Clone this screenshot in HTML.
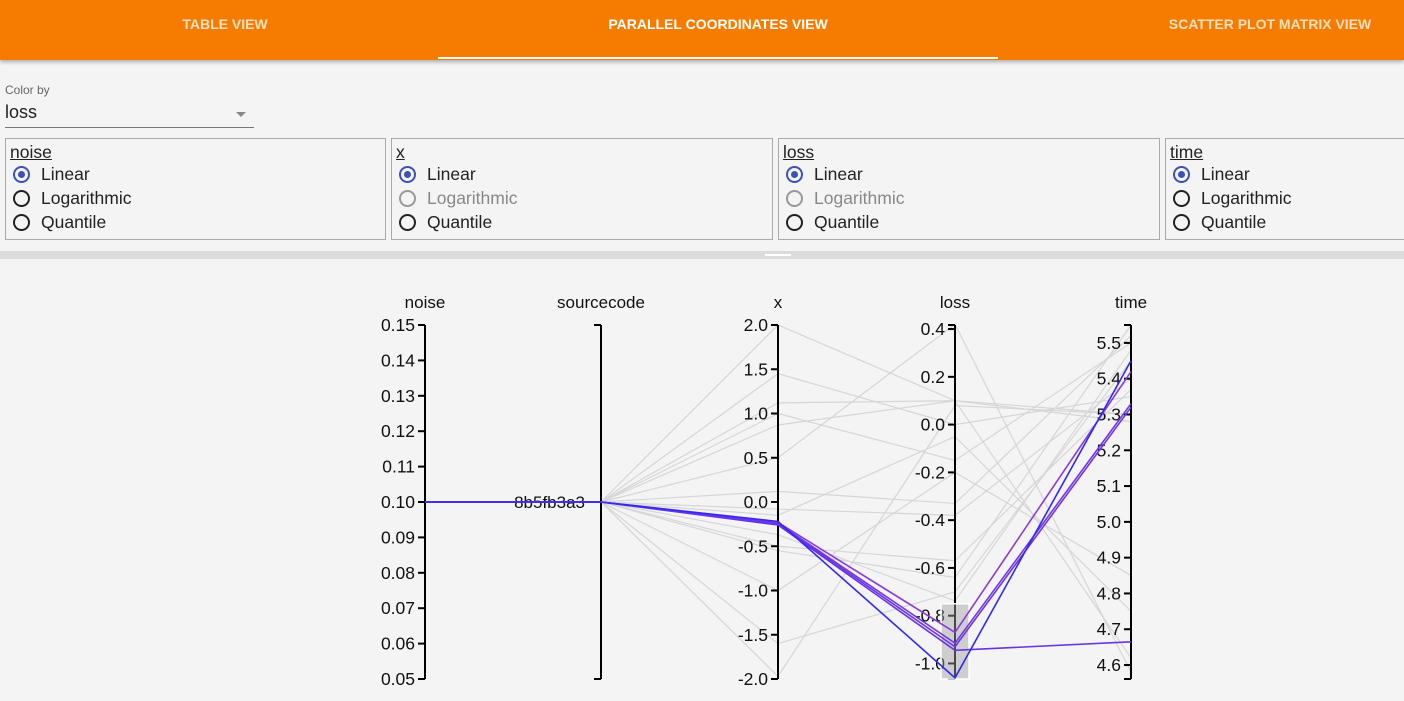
<!DOCTYPE html>
<html><head><meta charset="utf-8"><style>
body{margin:0;width:1404px;height:701px;overflow:hidden;background:#f4f4f4;font-family:"Liberation Sans",Roboto,sans-serif;position:relative}
.hdr{position:absolute;left:0;top:0;width:1404px;height:60px;background:#f57c00;box-shadow:0 2px 4px rgba(0,0,0,.3)}
.tab{position:absolute;top:0;height:58px;line-height:48px;color:#fff;font-size:14px;font-weight:bold;text-align:center}
.tab.off{color:#fde0c0}
.ind{position:absolute;left:438px;top:57px;width:560px;height:2px;background:#fff}
.lbl{position:absolute;left:5px;top:83px;font-size:12px;color:#666}
.sel{position:absolute;left:5px;top:102px;width:249px;height:25px;border-bottom:1px solid #777;font-size:18px;color:#222}
.sel .arr{position:absolute;right:8px;top:10px;width:0;height:0;border-left:5px solid transparent;border-right:5px solid transparent;border-top:5px solid #888}
.box{position:absolute;top:138px;height:100px;border:1px solid #aaa;font-size:17.5px;color:#222}
.box .t{position:absolute;left:4px;top:3px;text-decoration:underline}
.opt{position:absolute;left:5px;height:22px;line-height:22px;padding-left:30px}
.opt i{position:absolute;left:2px;top:3px;width:13px;height:13px;border:2px solid #222;border-radius:50%}
.opt.on i{border-color:#3f51b5}
.opt.on i:after{content:"";position:absolute;left:3px;top:3px;width:7px;height:7px;border-radius:50%;background:#3f51b5}
.opt.dis{color:#888}.opt.dis i{border-color:#999}
.div{position:absolute;left:0;top:251px;width:1404px;height:8px;background:#dcdcdc}
</style></head><body>
<div class="hdr">
<div class="tab off" style="left:0;width:450px">TABLE VIEW</div>
<div class="tab" style="left:438px;width:560px">PARALLEL COORDINATES VIEW</div>
<div class="tab off" style="left:1100px;width:340px">SCATTER PLOT MATRIX VIEW</div>
<div class="ind"></div>
</div>
<div class="lbl">Color by</div>
<div class="sel">loss<span class="arr"></span></div>

<div class="box" style="left:5px;width:379px"><span class="t">noise</span>
<div class="opt on" style="top:24px"><i></i>Linear</div>
<div class="opt" style="top:48px"><i></i>Logarithmic</div>
<div class="opt" style="top:72px"><i></i>Quantile</div></div>
<div class="box" style="left:391px;width:380px"><span class="t">x</span>
<div class="opt on" style="top:24px"><i></i>Linear</div>
<div class="opt dis" style="top:48px"><i></i>Logarithmic</div>
<div class="opt" style="top:72px"><i></i>Quantile</div></div>
<div class="box" style="left:778px;width:380px"><span class="t">loss</span>
<div class="opt on" style="top:24px"><i></i>Linear</div>
<div class="opt dis" style="top:48px"><i></i>Logarithmic</div>
<div class="opt" style="top:72px"><i></i>Quantile</div></div>
<div class="box" style="left:1165px;width:260px"><span class="t">time</span>
<div class="opt on" style="top:24px"><i></i>Linear</div>
<div class="opt" style="top:48px"><i></i>Logarithmic</div>
<div class="opt" style="top:72px"><i></i>Quantile</div></div>

<div class="div"><div style="position:absolute;left:765px;top:3px;width:26px;height:2px;background:#fff"></div></div>

<svg id="pc" width="1404" height="701" style="position:absolute;left:0;top:0"></svg>
<script>
const xVals   =[2.0,1.45,1.12,1.0,0.87,0.5,0.12,-0.08,-0.15,-0.5,-0.55,-1.0,-1.6,-1.97, -0.23,-0.24,-0.25,-0.26,-0.22,-0.37];
const lossVals=[0.1,0.0,0.1,-0.15,0.1,0.42,-0.33,-0.38,-0.05,-0.57,-0.64,-0.2,-0.7,0.08, -0.87,-0.915,-0.93,-0.945,-1.06,-0.738];
const timeVals=[5.3,5.35,5.28,5.5,4.62,4.58,5.52,5.4,4.75,5.37,5.55,4.85,5.45,5.3, 5.42,5.33,5.32,4.665,5.45,5.48];
const noiseVal=0.1;
const noiseTicks=[0.05,0.06,0.07,0.08,0.09,0.10,0.11,0.12,0.13,0.14,0.15];
const xTicks=[-2.0,-1.5,-1.0,-0.5,0.0,0.5,1.0,1.5,2.0];
const lossTicks=[-1.0,-0.8,-0.6,-0.4,-0.2,0.0,0.2,0.4];
const timeTicks=[4.6,4.7,4.8,4.9,5.0,5.1,5.2,5.3,5.4,5.5];
const brush=[-1.065,-0.75];
const svg=document.getElementById('pc');const NS='http://www.w3.org/2000/svg';
const T=325,B=679;
function lin(d0,d1){return v=>B-(v-d0)/(d1-d0)*(B-T);}
const AX={noise:425,src:601,x:778,loss:955,time:1131};
const sN=lin(0.05,0.15),sX=lin(-2,2),sL=lin(-1.065,0.417),sT=lin(4.561,5.55);
function el(t,a,p){const e=document.createElementNS(NS,t);for(const k in a)e.setAttribute(k,a[k]);(p||svg).appendChild(e);return e;}
function col(v){const t=Math.max(0,Math.min(1,(v+1.06)/(0.2)));const r=Math.round(50+t*90),g=Math.round(40+t*20),b=Math.round(245-t*25);return `rgb(${r},${g},${b})`;}
const gG=el('g',{}),cG=el('g',{});
for(let i=0;i<xVals.length;i++){
  const sel=lossVals[i]>=brush[0]&&lossVals[i]<=brush[1];
  const pts=[[AX.noise,sN(noiseVal)],[AX.src,sN(noiseVal)],[AX.x,sX(xVals[i])],[AX.loss,sL(lossVals[i])],[AX.time,sT(timeVals[i])]];
  const p=el('polyline',{points:pts.map(q=>q.join(',')).join(' '),fill:'none',stroke:sel?col(lossVals[i]):'#d6d6d6','stroke-width':sel?1.6:1.2},sel?cG:gG);
  
  
}
function axis(x,ticks,sc,name,title,fmt){
  const g=el('g',{});
  
  
  el('line',{x1:x,y1:T,x2:x,y2:B,stroke:'#000','stroke-width':2},g);
  el('line',{x1:x-7,y1:T,x2:x,y2:T,stroke:'#000','stroke-width':2},g);
  el('line',{x1:x-7,y1:B,x2:x,y2:B,stroke:'#000','stroke-width':2},g);
  ticks.forEach(t=>{const y=sc(t);el('line',{x1:x-7,y1:y,x2:x,y2:y,stroke:'#000','stroke-width':2},g);
    const tx=el('text',{x:x-10,y:y+6,'text-anchor':'end','font-size':17.5,fill:'#111'},g);tx.textContent=fmt(t);});
  const tt=el('text',{x:x,y:308,'text-anchor':'middle','font-size':17,fill:'#111'},g);tt.textContent=title;
}
axis(AX.noise,noiseTicks,sN,'noise','noise',v=>v.toFixed(2));
axis(AX.src,[],sN,'sourcecode','sourcecode',v=>v);
const st=el('text',{x:AX.src-16,y:sN(noiseVal)+6,'text-anchor':'end','font-size':17,fill:'#111'});st.textContent='8b5fb3a3';


axis(AX.x,xTicks,sX,'x','x',v=>v.toFixed(1));
axis(AX.loss,lossTicks,sL,'loss','loss',v=>v.toFixed(1));
axis(AX.time,timeTicks,sT,'time','time',v=>v.toFixed(1));
const br=el('rect',{x:AX.loss-14,y:sL(brush[1]),width:28,height:sL(brush[0])-sL(brush[1]),fill:'rgba(160,160,160,0.45)',stroke:'#fff','stroke-width':1.5});


svg.appendChild(cG);
</script>
</body></html>
